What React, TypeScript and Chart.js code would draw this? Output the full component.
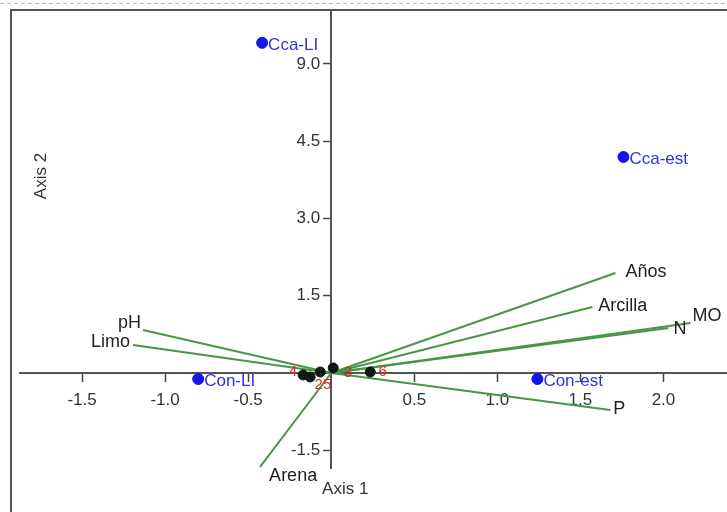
import React, { useEffect, useRef } from "react";
import { Chart, registerables } from "chart.js";

Chart.register(...registerables);

// ---- data ----
const siteNames = ["Cca-LI", "Cca-est", "Con-LI", "Con-est"];
const siteX = [-0.416, 1.759, -0.801, 1.241];
const siteY = [6.41, 4.194, -0.117, -0.117];

const varNames = ["Años", "Arcilla", "MO", "N", "P", "pH", "Limo", "Arena"];
const varX = [1.711, 1.572, 2.163, 2.03, 1.68, -1.133, -1.193, -0.428];
const varY = [1.94, 1.28, 0.97, 0.874, -0.72, 0.835, 0.544, -1.825];

const obsX = [-0.169, -0.127, -0.066, 0.012, 0.235];
const obsY = [-0.039, -0.078, 0.019, 0.097, 0.019];

const obsLabels = ["4", "25", "3", "6"];
const obsLabelX = [-0.23, -0.05, 0.1, 0.31];
const obsLabelY = [0.02, -0.23, 0.0, 0.02];

const xTickValues = [-1.5, -1.0, -0.5, 0.5, 1.0, 1.5, 2.0];
const xTickLabels = ["-1.5", "-1.0", "-0.5", "0.5", "1.0", "1.5", "2.0"];
const yTickValues = [-1.5, 1.5, 3.0, 4.5, 6.0];
const yTickLabels = ["-1.5", "1.5", "3.0", "4.5", "9.0"];

const xAxisTitle = "Axis 1";
const yAxisTitle = "Axis 2";

// ---- styling ----
const FONT = "'Liberation Sans', Arial, sans-serif";
const GREEN = "rgb(72,150,72)";
const CANVAS_W = 734;
// label placement for vector labels: [dx, dy, align]
const varLabelPlace: [number, number, CanvasTextAlign][] = [
  [10, -1, "left"],
  [6, -1, "left"],
  [2, -7, "left"],
  [5, 1, "left"],
  [3, -1, "left"],
  [-2, -7, "right"],
  [-3, -3, "right"],
  [9, 9, "left"],
];

const labelPlugin = {
  id: "biplotLabels",
  beforeDraw(chart: any) {
    const { ctx, width, height } = chart;
    ctx.save();
    ctx.fillStyle = "#fff";
    ctx.fillRect(0, 0, width, height);
    ctx.strokeStyle = "#bbb";
    ctx.lineWidth = 1;
    ctx.setLineDash([4, 3]);
    ctx.beginPath();
    ctx.moveTo(0, 3.5);
    ctx.lineTo(width, 3.5);
    ctx.stroke();
    ctx.setLineDash([]);
    ctx.strokeStyle = "#555";
    ctx.lineWidth = 2;
    ctx.beginPath();
    ctx.moveTo(11, height);
    ctx.lineTo(11, 10);
    ctx.lineTo(width, 10);
    ctx.stroke();
    ctx.restore();
  },
  afterDatasetsDraw(chart: any) {
    const { ctx } = chart;
    const xs = chart.scales.x;
    const ys = chart.scales.y;
    ctx.save();
    ctx.textBaseline = "middle";
    // y tick labels (left of the axis)
    ctx.font = `17px ${FONT}`;
    ctx.fillStyle = "#333";
    ctx.textAlign = "right";
    const x0 = xs.getPixelForValue(0);
    yTickValues.forEach((v, i) => {
      ctx.fillText(yTickLabels[i], x0 - 11, ys.getPixelForValue(v));
    });
    // vector labels
    ctx.font = `18px ${FONT}`;
    ctx.fillStyle = "#222";
    varNames.forEach((n, i) => {
      const [dx, dy, al] = varLabelPlace[i];
      ctx.textAlign = al;
      ctx.fillText(n, xs.getPixelForValue(varX[i]) + dx, ys.getPixelForValue(varY[i]) + dy);
    });
    // red observation labels
    ctx.font = `15px ${FONT}`;
    ctx.fillStyle = "rgb(220,40,40)";
    ctx.textAlign = "center";
    obsLabels.forEach((n, i) => {
      ctx.fillText(n, xs.getPixelForValue(obsLabelX[i]), ys.getPixelForValue(obsLabelY[i]));
    });
    // site labels
    ctx.font = `17px ${FONT}`;
    ctx.fillStyle = "rgb(50,50,215)";
    ctx.textAlign = "left";
    siteNames.forEach((n, i) => {
      ctx.fillText(n, xs.getPixelForValue(siteX[i]) + 6, ys.getPixelForValue(siteY[i]) + 2);
    });
    // axis titles
    ctx.font = `17px ${FONT}`;
    ctx.fillStyle = "#333";
    ctx.textAlign = "center";
    ctx.fillText(xAxisTitle, x0 + 14, chart.chartArea.bottom + 21);
    ctx.translate(41, 176);
    ctx.rotate(-Math.PI / 2);
    ctx.fillText(yAxisTitle, 0, 0);
    ctx.restore();
  },
};

const zeroPad = (s: any) => {
  s.paddingLeft = 0;
  s.paddingRight = 0;
  s.paddingTop = 0;
  s.paddingBottom = 0;
};

export default function App() {
  const ref = useRef<HTMLCanvasElement | null>(null);
  useEffect(() => {
    if (!ref.current) return;
    const datasets: any[] = [];
    datasets.push({
      label: "sites",
      data: siteX.map((x, i) => ({ x, y: siteY[i] })),
      backgroundColor: "rgb(20,20,235)",
      borderColor: "rgb(20,20,235)",
      pointRadius: 5.5,
      showLine: false,
    });
    datasets.push({
      label: "obs",
      data: obsX.map((x, i) => ({ x, y: obsY[i] })),
      backgroundColor: "#0d1a0d",
      borderColor: "#0d1a0d",
      pointRadius: 5,
      showLine: false,
    });
    varNames.forEach((n, i) => {
      datasets.push({
        label: n,
        data: [
          { x: 0, y: 0 },
          { x: varX[i], y: varY[i] },
        ],
        showLine: true,
        borderColor: GREEN,
        borderWidth: 2,
        pointRadius: 0,
        fill: false,
      });
    });
    const tickFont = { family: FONT, size: 17 };
    const chart = new Chart(ref.current, {
      type: "scatter",
      data: { datasets },
      plugins: [labelPlugin],
      options: {
        animation: false,
        responsive: false,
        events: [],
        layout: { padding: { left: 20, top: 10, right: 0, bottom: 44 } },
        plugins: { legend: { display: false }, tooltip: { enabled: false } },
        scales: {
          x: {
            type: "linear",
            min: -1.8735,
            max: 2.3855,
            position: { y: 0 } as any,
            afterBuildTicks: (ax: any) => {
              ax.ticks = xTickValues.map((v) => ({ value: v }));
            },
            afterFit: zeroPad,
            ticks: {
              callback: (v: any) => xTickLabels[xTickValues.indexOf(Number(v))],
              font: tickFont,
              color: "#333",
              padding: 9,
              maxRotation: 0,
              autoSkip: false,
            },
            grid: { drawOnChartArea: false, drawTicks: true, tickLength: 8, color: "#444", tickWidth: 1.5 },
            border: { color: "#555", width: 2 },
          },
          y: {
            type: "linear",
            min: -1.845,
            max: 7.048,
            position: { x: 0 } as any,
            afterBuildTicks: (ax: any) => {
              ax.ticks = yTickValues.map((v) => ({ value: v }));
            },
            afterFit: zeroPad,
            ticks: { display: false },
            grid: { drawOnChartArea: false, drawTicks: true, tickLength: 7, color: "#444", tickWidth: 1.5 },
            border: { color: "#555", width: 2 },
          },
        },
      },
    } as any);
    return () => chart.destroy();
  }, []);
  return (
    <div style={{ position: "fixed", left: 0, top: 0, width: 727, height: 512, overflow: "hidden", background: "#fff" }}>
      <canvas ref={ref} width={CANVAS_W} height={512} style={{ display: "block" }} />
    </div>
  );
}
